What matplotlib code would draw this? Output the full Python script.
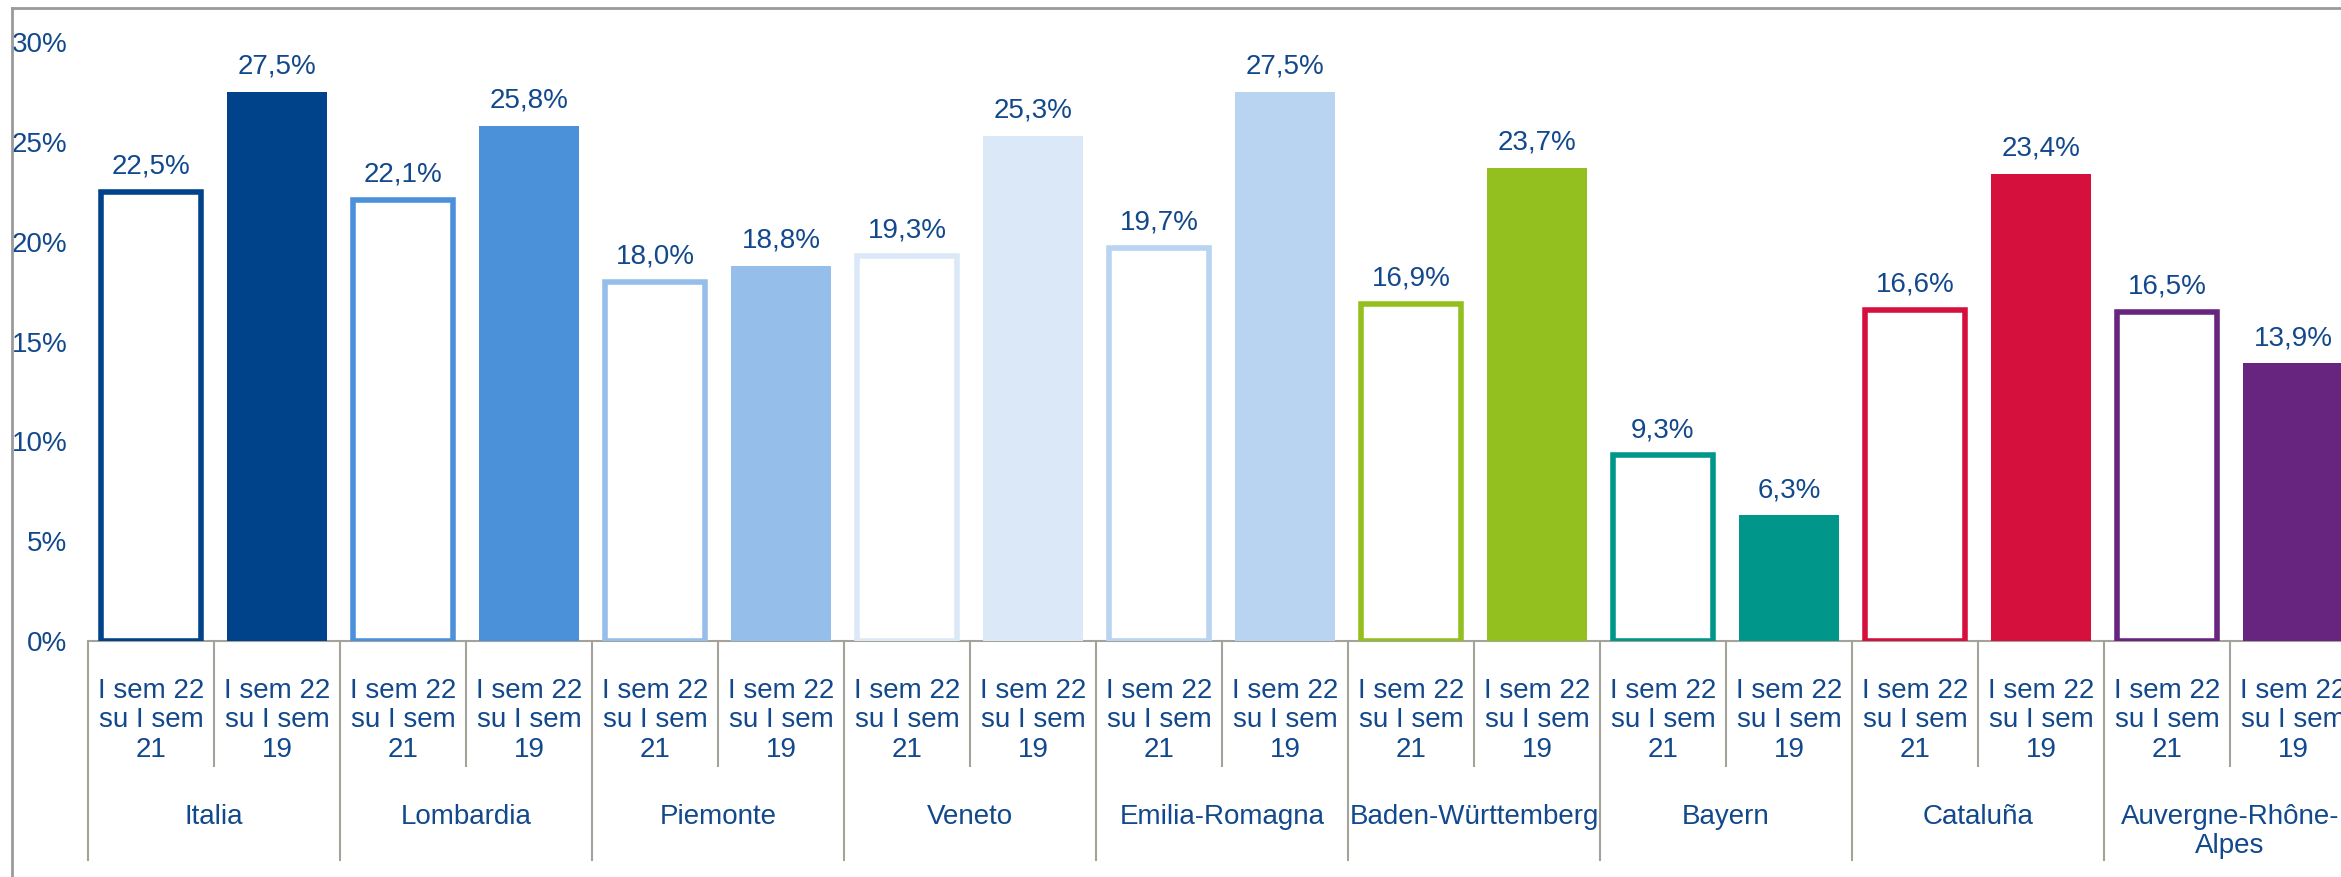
"""
Regional growth chart: I sem 22 vs I sem 21 / I sem 19.
"""

import matplotlib

matplotlib.use("Agg")  # headless
import matplotlib.pyplot as plt
from matplotlib.lines import Line2D

plt.rcParams["font.family"] = ["Liberation Sans", "DejaVu Sans"]

REGIONS = [
    "Italia",
    "Lombardia",
    "Piemonte",
    "Veneto",
    "Emilia-Romagna",
    "Baden-Württemberg",
    "Bayern",
    "Cataluña",
    "Auvergne-Rhône-\nAlpes",
]
PERIODS = ["I sem 22\nsu I sem\n21", "I sem 22\nsu I sem\n19"]
VS_21 = [22.5, 22.1, 18.0, 19.3, 19.7, 16.9, 9.3, 16.6, 16.5]
VS_19 = [27.5, 25.8, 18.8, 25.3, 27.5, 23.7, 6.3, 23.4, 13.9]
COLORS = [
    "#00438A",
    "#4A91DA",
    "#95BEEA",
    "#DBE8F7",
    "#B8D4F1",
    "#93C01F",
    "#009689",
    "#D5103D",
    "#67257F",
]
Y_TICKS = [0, 5, 10, 15, 20, 25, 30]

TEXT = "#12488C"
GRID = "#A3A39B"
FS = 20

W, H = 2341, 877
fig = plt.figure(figsize=(W / 100, H / 100), dpi=100)
# axes deliberately run past the right edge (the original is cropped there)
ax = fig.add_axes([88 / W, 1 - 641 / H, 9 * 252 / W, 599 / H])

bar_w = 0.8
for i, (v21, v19, col) in enumerate(zip(VS_21, VS_19, COLORS)):
    x0, x1 = 2 * i, 2 * i + 1
    ax.bar(x0, v21, bar_w, facecolor="white", edgecolor=col, linewidth=4, zorder=3)
    ax.bar(x1, v19, bar_w, color=col, linewidth=0, zorder=3)
    for x, v in ((x0, v21), (x1, v19)):
        ax.annotate(
            f"{v:.1f}%".replace(".", ","),
            (x, v),
            xytext=(0, 13),
            textcoords="offset points",
            ha="center",
            va="baseline",
            fontsize=FS,
            color=TEXT,
            clip_on=False,
        )

ax.set_xlim(-0.5, 2 * len(REGIONS) - 0.5)
ax.set_ylim(0, 30)
ax.set_yticks(Y_TICKS)
ax.set_yticklabels([f"{t}%" for t in Y_TICKS], fontsize=FS, color=TEXT)
ax.tick_params(axis="y", length=0, pad=15)
ax.set_xticks([])
for s in ("top", "right", "left"):
    ax.spines[s].set_visible(False)
ax.spines["bottom"].set_color(GRID)
ax.spines["bottom"].set_linewidth(1.5)
ax.spines["bottom"].set_zorder(2)

trans = ax.get_xaxis_transform()
y_minor = -(766 - 641) / 599
y_major = -(860 - 641) / 599
for k in range(2 * len(REGIONS) + 1):
    xb = k - 0.5
    yb = y_major if k % 2 == 0 else y_minor
    ax.plot([xb, xb], [0, yb], color=GRID, lw=1.5, transform=trans, clip_on=False)

for i, region in enumerate(REGIONS):
    for j, period in enumerate(PERIODS):
        ax.text(
            2 * i + j,
            -(678 - 641) / 599,
            period,
            ha="center",
            va="top",
            fontsize=FS,
            color=TEXT,
            linespacing=1.17,
            transform=trans,
        )
    ax.text(
        2 * i + 0.5,
        -(804 - 641) / 599,
        region,
        ha="center",
        va="top",
        fontsize=FS,
        color=TEXT,
        linespacing=1.17,
        transform=trans,
    )

# outer frame of the original chart area (only top and left edges are visible)
fig.add_artist(Line2D([12 / W, 1], [1 - 8 / H, 1 - 8 / H], color="#9A9A9A", lw=2))
fig.add_artist(Line2D([12 / W, 12 / W], [0, 1 - 8 / H], color="#9A9A9A", lw=2))

plt.savefig("out.png", dpi=100)
plt.close()
